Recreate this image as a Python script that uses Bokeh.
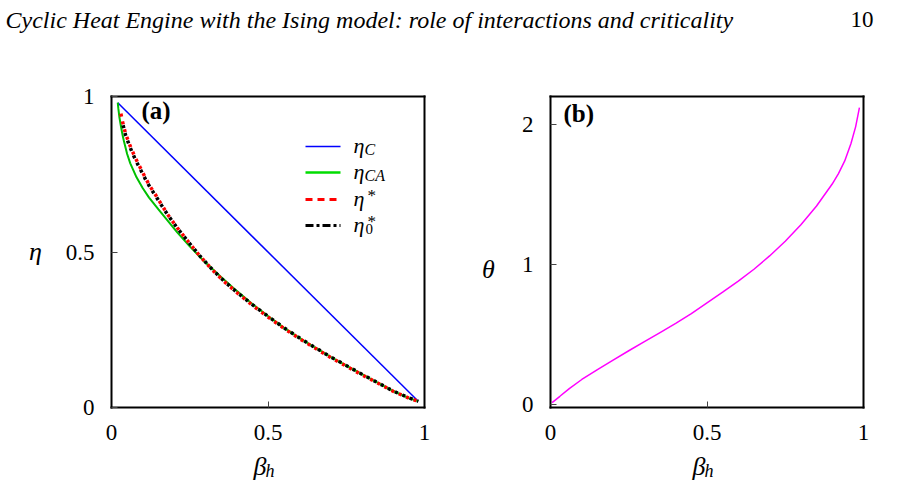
from bokeh.plotting import figure
from bokeh.models import Range1d, FixedTicker, Label, LinearAxis
from bokeh.layouts import column, row
from bokeh.embed import file_html
from bokeh.resources import INLINE

# ---- data ---------------------------------------------------------------
# panel (a): efficiencies versus beta_h
beta_c_line = [0.02, 0.98]
eta_C = [0.98, 0.02]

beta_ca = [0.02, 0.022, 0.025, 0.03, 0.035, 0.04, 0.05, 0.06, 0.08, 0.10,
           0.12, 0.15, 0.18, 0.21, 0.25, 0.30, 0.35, 0.40, 0.45, 0.50,
           0.55, 0.60, 0.65, 0.70, 0.75, 0.80, 0.85, 0.90, 0.95, 0.98]
eta_CA = [0.98, 0.96, 0.935, 0.905, 0.878, 0.855, 0.815, 0.785, 0.74, 0.705,
          0.675, 0.637, 0.60, 0.563, 0.518, 0.466, 0.42, 0.375, 0.333, 0.294,
          0.257, 0.224, 0.193, 0.163, 0.135, 0.107, 0.080, 0.053, 0.030, 0.02]

beta_star = [0.03, 0.035, 0.045, 0.06, 0.075, 0.09, 0.11, 0.125, 0.14, 0.16,
             0.18, 0.21, 0.25, 0.28, 0.32, 0.36, 0.40, 0.45, 0.50, 0.55,
             0.60, 0.65, 0.70, 0.75, 0.80, 0.85, 0.90, 0.95, 0.98]
eta_star = [0.945, 0.92, 0.88, 0.84, 0.805, 0.775, 0.735, 0.708, 0.685, 0.652,
            0.62, 0.578, 0.527, 0.49, 0.445, 0.405, 0.370, 0.329, 0.291, 0.255,
            0.222, 0.191, 0.161, 0.133, 0.105, 0.079, 0.052, 0.03, 0.02]

beta_star0 = [0.034, 0.045, 0.06, 0.075, 0.09, 0.11, 0.125, 0.14, 0.16,
              0.18, 0.21, 0.25, 0.28, 0.32, 0.36, 0.40, 0.45, 0.50, 0.55,
              0.60, 0.65, 0.70, 0.75, 0.80, 0.85, 0.90, 0.95, 0.98]
eta_star0 = [0.92, 0.875, 0.835, 0.80, 0.77, 0.731, 0.705, 0.682, 0.65,
             0.619, 0.577, 0.527, 0.49, 0.446, 0.406, 0.371, 0.331, 0.293, 0.257,
             0.224, 0.193, 0.163, 0.135, 0.107, 0.080, 0.053, 0.031, 0.02]

# panel (b): theta versus beta_h
beta_b = [0.005, 0.03, 0.06, 0.10, 0.15, 0.20, 0.25, 0.30, 0.35, 0.40,
          0.45, 0.50, 0.55, 0.60, 0.65, 0.70, 0.75, 0.80, 0.85, 0.90,
          0.92, 0.94, 0.96, 0.975, 0.987]
theta = [0.015, 0.06, 0.115, 0.18, 0.25, 0.318, 0.385, 0.45, 0.515, 0.58,
         0.65, 0.727, 0.803, 0.882, 0.967, 1.062, 1.167, 1.285, 1.418, 1.575,
         1.65, 1.74, 1.865, 1.985, 2.12]

x_ticks = [0, 0.5, 1]
x_tick_labels = {0: "0", 0.5: "0.5", 1: "1"}
ya_ticks = [0, 0.5, 1]
ya_tick_labels = {0: "0", 0.5: "0.5", 1: "1"}
yb_ticks = [0, 1, 2]
yb_tick_labels = {0: "0", 1: "1", 2: "2"}

SERIF = "Liberation Serif"
PANEL_W, PANEL_H = 450, 445
BOX_TOP, BOX_BOTTOM = 56, 367          # box edges inside each panel canvas


def panel_ranges(box_left, box_right, xlim, ylim):
    """Data ranges so that the box spans the given pixel edges of the canvas."""
    sx = (xlim[1] - xlim[0]) / (box_right - box_left)
    sy = (ylim[1] - ylim[0]) / (BOX_BOTTOM - BOX_TOP)
    xr = (xlim[0] - box_left * sx, xlim[1] + (PANEL_W - box_right) * sx)
    yr = (ylim[0] - (PANEL_H - BOX_BOTTOM) * sy, ylim[1] + BOX_TOP * sy)
    return xr, yr, sx, sy


def style_axis(ax, width=2):
    ax.axis_line_color = "black"
    ax.axis_line_width = width
    ax.axis_line_cap = "square"
    ax.major_tick_in = 6
    ax.major_tick_out = 0
    ax.major_tick_line_color = "#444444"
    ax.minor_tick_line_color = None
    ax.major_label_text_font = SERIF
    ax.major_label_text_font_size = "23px"
    ax.major_label_text_color = "black"
    ax.major_label_standoff = 17


def make_panel(box_left, box_right, xlim, ylim, yticks, ylabels):
    xr, yr, sx, sy = panel_ranges(box_left, box_right, xlim, ylim)
    p = figure(frame_width=PANEL_W, frame_height=PANEL_H,
               x_range=Range1d(*xr), y_range=Range1d(*yr),
               x_axis_type=None, y_axis_type=None, min_border=0,
               output_backend="svg", toolbar_location=None)
    p.grid.visible = False
    p.outline_line_color = None
    p.background_fill_color = "white"
    p.border_fill_color = "white"

    bottom = LinearAxis(fixed_location=ylim[0], bounds=xlim,
                        ticker=FixedTicker(ticks=x_ticks),
                        major_label_overrides=x_tick_labels)
    left = LinearAxis(fixed_location=xlim[0], bounds=ylim,
                      ticker=FixedTicker(ticks=yticks),
                      major_label_overrides=ylabels)
    top = LinearAxis(fixed_location=ylim[1], bounds=xlim,
                     ticker=FixedTicker(ticks=[]))
    right = LinearAxis(fixed_location=xlim[1], bounds=ylim,
                       ticker=FixedTicker(ticks=[]))
    for ax in (bottom, left, top, right):
        style_axis(ax)
    for ax in (top, right):
        ax.major_label_text_font_size = "0px"
    p.add_layout(bottom, "below")
    p.add_layout(left, "left")
    p.add_layout(top, "above")
    p.add_layout(right, "right")
    return p, sx, sy


def text(p, x, y, s, size, style="normal", align="left"):
    p.add_layout(Label(x=x, y=y, text=s, text_font=SERIF,
                       text_font_size=size, text_font_style=style,
                       text_align=align, text_baseline="alphabetic",
                       text_color="black"))


# ---- panel (a) ----------------------------------------------------------
pa, sxa, sya = make_panel(111, 424, (0, 1), (0, 1), ya_ticks, ya_tick_labels)
pa.line(beta_c_line, eta_C, line_color="#0000ff", line_width=1.5)
pa.line(beta_ca, eta_CA, line_color="#00c000", line_width=2)
# the two optimum curves nearly coincide: short red and black strokes alternate
pa.line(beta_star, eta_star, line_color="#ff0000", line_width=3.5,
        line_dash="3 5")
pa.line(beta_star0, eta_star0, line_color="black", line_width=3.5,
        line_dash="3 5", line_dash_offset=4)


def ya(py):
    # canvas pixel row of panel (a) -> data y
    return (BOX_BOTTOM - py) * sya


def xa(px):
    return (px - 111) * sxa


# key
key_rows_px = [106, 132, 159, 185]
key_styles = [("#0000ff", 1.5, "solid"), ("#00dd00", 2.5, "solid"),
              ("#ff0000", 3, "7 5"), ("black", 3, "8 3 3 3")]
for py, (c, w, d) in zip(key_rows_px, key_styles):
    pa.line([xa(305), xa(340)], [ya(py), ya(py)], line_color=c,
            line_width=w, line_dash=d)
for py in key_rows_px:
    text(pa, xa(353), ya(py - 1), "η", "22px", "italic")
text(pa, xa(364), ya(key_rows_px[0] + 3), "C", "16px", "italic")
text(pa, xa(364), ya(key_rows_px[1] + 3), "CA", "16px", "italic")
text(pa, xa(367), ya(key_rows_px[2] - 4), "*", "17px")
text(pa, xa(365), ya(key_rows_px[3] + 3), "0", "15px")
text(pa, xa(367), ya(key_rows_px[3] - 4), "*", "17px")

text(pa, xa(141), ya(70), "(a)", "25px", "bold")
text(pa, xa(35), ya(211), "η", "26px", "italic", "center")
text(pa, xa(253), ya(426), "β", "26px", "italic")
text(pa, xa(265), ya(430), "h", "18px", "italic")

# ---- panel (b) ----------------------------------------------------------
pb, sxb, syb = make_panel(100, 413, (0, 1), (-0.02, 2.2), yb_ticks,
                          yb_tick_labels)
pb.line(beta_b, theta, line_color="#ff00ff", line_width=1.5)


def yb(py):
    return -0.02 + (BOX_BOTTOM - py) * syb


def xb(px):
    return (px - 100) * sxb


text(pb, xb(113), yb(73), "(b)", "25px", "bold")
text(pb, xb(38), yb(229), "θ", "26px", "italic", "center")
text(pb, xb(242), yb(426), "β", "26px", "italic")
text(pb, xb(254), yb(430), "h", "18px", "italic")

# ---- running head -------------------------------------------------------
head = figure(frame_width=900, frame_height=40, x_range=Range1d(0, 900),
              y_range=Range1d(0, 40), min_border=0,
              x_axis_type=None, y_axis_type=None,
              output_backend="svg", toolbar_location=None)
head.grid.visible = False
head.outline_line_color = None
head.add_layout(Label(x=5, y=21, text="Cyclic Heat Engine with the Ising model:  role of interactions and criticality",
                      text_font=SERIF, text_font_size="24px",
                      text_font_style="italic", text_baseline="alphabetic",
                      text_color="black"))
head.add_layout(Label(x=873, y=21, text="10", text_font=SERIF,
                      text_font_size="23px", text_align="right",
                      text_baseline="alphabetic", text_color="black"))

layout = column(head, row(pa, pb, spacing=0), spacing=0)
open("out.html", "w").write(file_html(layout, INLINE))
